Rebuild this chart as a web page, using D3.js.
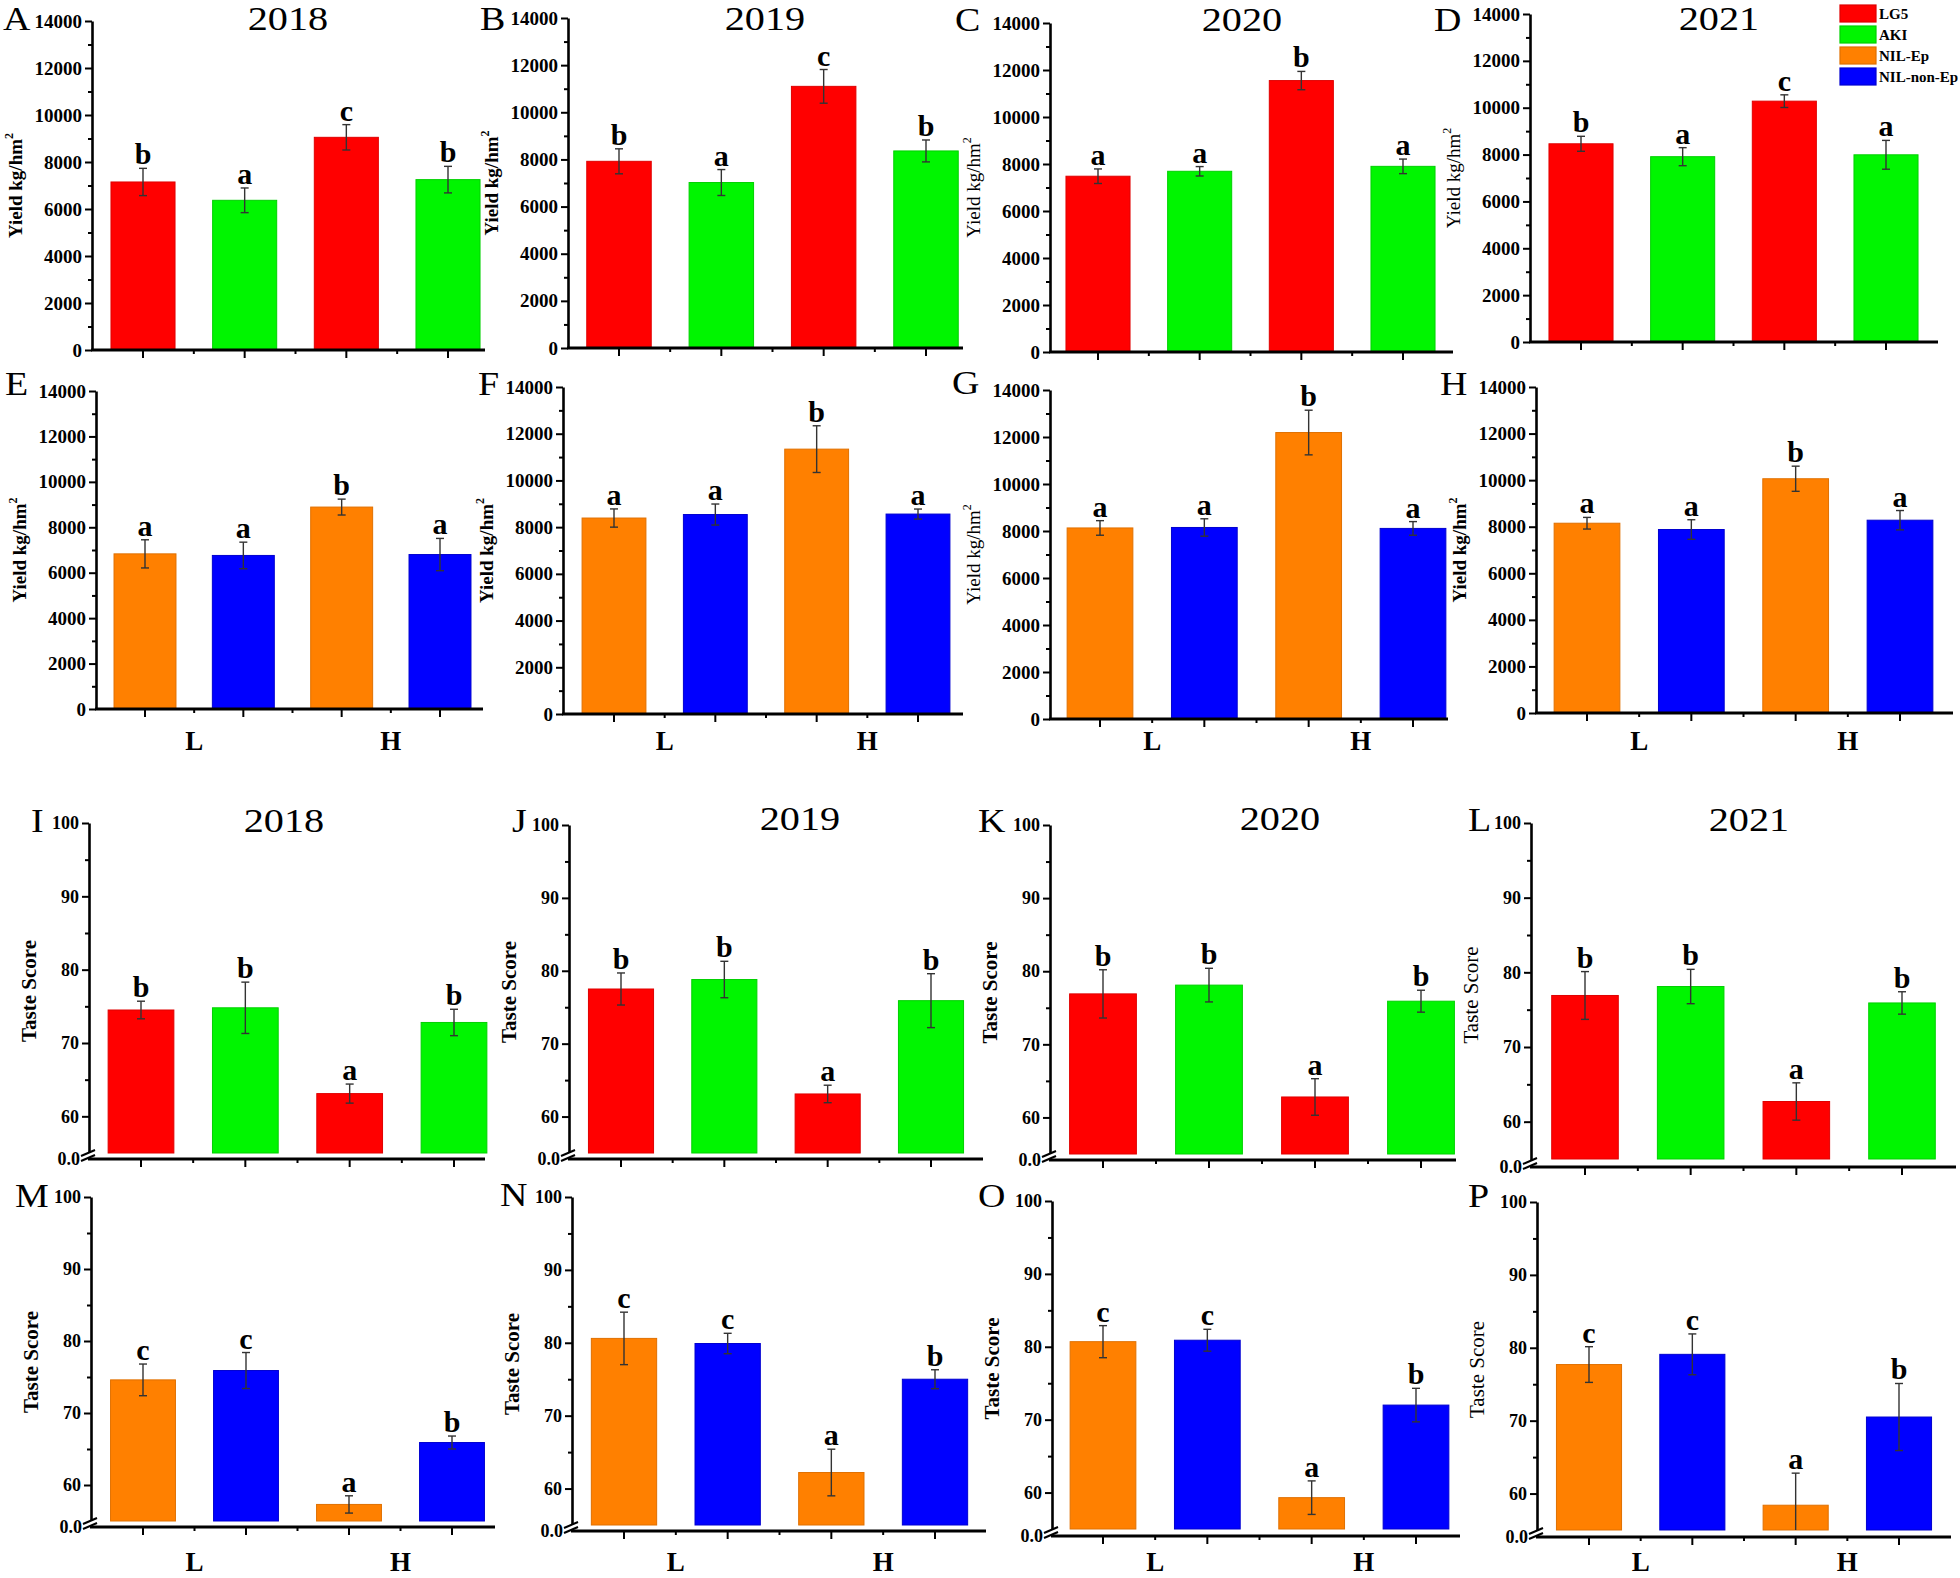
<!DOCTYPE html>
<html><head><meta charset="utf-8">
<script src="https://cdn.jsdelivr.net/npm/d3@7"></script>
<style>
body{margin:0;background:#fff}
svg{display:block}
text{font-family:"Liberation Serif","Times New Roman",serif;fill:#000}
</style>
</head><body>
<svg id="chart" width="1960" height="1578"></svg>
<script>
// ---------------- DATA ----------------
const years = ["2018", "2019", "2020", "2021"];
const barKeys = ["L-1", "L-2", "H-1", "H-2"];
const nitrogenLevels = ["L", "H"];
const parentLines = ["LG5", "AKI", "LG5", "AKI"];
const nilLines = ["NIL-Ep", "NIL-non-Ep", "NIL-Ep", "NIL-non-Ep"];
const legendItems = ["LG5", "AKI", "NIL-Ep", "NIL-non-Ep"];
const panelLetters = ["A","B","C","D","E","F","G","H","I","J","K","L","M","N","O","P"];

const yieldMajorTicks = [0, 2000, 4000, 6000, 8000, 10000, 12000, 14000];
const yieldMinorTicks = [1000, 3000, 5000, 7000, 9000, 11000, 13000];
const tasteMajorTicks = [60, 70, 80, 90, 100];
const tasteMinorTicks = [65, 75, 85, 95];

// Yield (kg/hm2), parents LG5 / AKI, per year: [LG5-L, AKI-L, LG5-H, AKI-H]
const yieldParentMean = [
  [7150, 6370, 9050, 7250],
  [7920, 7020, 11100, 8360],
  [7480, 7690, 11550, 7900],
  [8460, 7910, 10280, 7990]
];
const yieldParentErr = [
  [580, 525, 540, 565],
  [530, 550, 715, 465],
  [310, 200, 390, 310],
  [320, 385, 270, 615]
];
const yieldParentSig = [
  ["b","a","c","b"],
  ["b","a","c","b"],
  ["a","a","b","a"],
  ["b","a","c","a"]
];

// Yield, NILs
const yieldNilMean = [
  [6830, 6760, 8890, 6800],
  [8390, 8540, 11340, 8560],
  [8130, 8150, 12190, 8110],
  [8150, 7880, 10060, 8280]
];
const yieldNilErr = [
  [620, 585, 350, 710],
  [390, 450, 1000, 215],
  [310, 370, 950, 290],
  [250, 420, 540, 415]
];
const yieldNilSig = [
  ["a","a","b","a"],
  ["a","a","b","a"],
  ["a","a","b","a"],
  ["a","a","b","a"]
];

// Taste score, parents
const tasteParentMean = [
  [74.5, 74.8, 63.1, 72.8],
  [77.5, 78.8, 63.1, 75.9],
  [76.9, 78.1, 62.8, 75.9],
  [76.9, 78.1, 62.7, 75.9]
];
const tasteParentErr = [
  [1.2, 3.5, 1.3, 1.8],
  [2.2, 2.5, 1.2, 3.7],
  [3.3, 2.3, 2.5, 1.5],
  [3.2, 2.3, 2.5, 1.5]
];
const tasteParentSig = [
  ["b","b","a","b"],
  ["b","b","a","b"],
  ["b","b","a","b"],
  ["b","b","a","b"]
];

// Taste score, NILs
const tasteNilMean = [
  [74.6, 75.9, 57.3, 65.9],
  [80.6, 79.9, 62.2, 75.0],
  [80.7, 80.9, 59.3, 72.0],
  [77.7, 79.1, 58.4, 70.5]
];
const tasteNilErr = [
  [2.2, 2.5, 1.2, 0.9],
  [3.6, 1.4, 3.2, 1.3],
  [2.2, 1.5, 2.3, 2.3],
  [2.45, 2.8, 4.4, 4.6]
];
const tasteNilSig = [
  ["c","c","a","b"],
  ["c","c","a","b"],
  ["c","c","a","b"],
  ["c","c","a","b"]
];

// ---------------- STYLE / LAYOUT ----------------
const colors = {"LG5":"#ff0000","AKI":"#00f500","NIL-Ep":"#ff8000","NIL-non-Ep":"#0000ff"};
const strokeColors = {"LG5":"#e00000","AKI":"#00d000","NIL-Ep":"#e07000","NIL-non-Ep":"#0000d0"};

// yield panels (rows 1-2)
const yieldLayout = [
  {ax:92,  yTop:21,  y0:350, xEnd:485,  c0:143,  c3:448,  lx:3,    ly:30,  tx:288,  ty:30, boldLab:true},
  {ax:568, yTop:18,  y0:348, xEnd:963,  c0:619,  c3:926,  lx:480,  ly:30,  tx:765,  ty:30, boldLab:true},
  {ax:1050,yTop:23,  y0:352, xEnd:1453, c0:1098, c3:1403, lx:955,  ly:31,  tx:1242, ty:31, boldLab:false},
  {ax:1530,yTop:14,  y0:342, xEnd:1938, c0:1581, c3:1886, lx:1434, ly:31,  tx:1719, ty:30, boldLab:false},
  {ax:96,  yTop:391, y0:709, xEnd:483,  c0:145,  c3:440,  lx:5,    ly:395, nl:750, boldLab:true},
  {ax:563, yTop:387, y0:714, xEnd:963,  c0:614,  c3:918,  lx:478,  ly:395, nl:750, boldLab:true},
  {ax:1050,yTop:390, y0:719, xEnd:1448, c0:1100, c3:1413, lx:952,  ly:394, nl:750, boldLab:false},
  {ax:1536,yTop:387, y0:713, xEnd:1953, c0:1587, c3:1900, lx:1440, ly:395, nl:750, boldLab:true}
];
// taste panels (rows 3-4)
const tasteLayout = [
  {ax:89,  y100:823,  y55:1153, axisY:1159, xEnd:485,  c0:141,  c3:454,  lx:31,   ly:832,  tx:284,  ty:832, boldLab:true},
  {ax:569, y100:825,  y55:1153, axisY:1159, xEnd:983,  c0:621,  c3:931,  lx:512,  ly:832,  tx:800,  ty:830, boldLab:true},
  {ax:1050,y100:825,  y55:1154, axisY:1160, xEnd:1456, c0:1103, c3:1421, lx:978,  ly:832,  tx:1280, ty:830, boldLab:true},
  {ax:1531,y100:823,  y55:1159, axisY:1167, xEnd:1956, c0:1585, c3:1902, lx:1468, ly:831,  tx:1749, ty:831, boldLab:false},
  {ax:91,  y100:1197, y55:1521, axisY:1527, xEnd:495,  c0:143,  c3:452,  lx:15,   ly:1207, nl:1571, boldLab:true},
  {ax:572, y100:1197, y55:1525, axisY:1531, xEnd:986,  c0:624,  c3:935,  lx:500,  ly:1206, nl:1571, boldLab:true},
  {ax:1052,y100:1201, y55:1529, axisY:1536, xEnd:1460, c0:1103, c3:1416, lx:978,  ly:1207, nl:1571, boldLab:true},
  {ax:1537,y100:1202, y55:1530, axisY:1537, xEnd:1951, c0:1589, c3:1899, lx:1468, ly:1207, nl:1571, boldLab:false}
];

const svg = d3.select("#chart");

function drawPanel(L, letter, mean, err, sig, lines, type, titleText) {
  const g = svg.append("g");
  const s = (L.c3 - L.c0) / 3;
  const x = d3.scaleBand().domain(barKeys)
    .range([L.c0 - s/2, L.c3 + s/2]).paddingInner(0.37).paddingOuter(0.185);
  let y, base, axisY, majors, minors, labOff;
  if (type === "yield") {
    y = d3.scaleLinear().domain([0, 14000]).range([L.y0, L.yTop]);
    base = 0; axisY = L.y0; majors = yieldMajorTicks; minors = yieldMinorTicks; labOff = 70;
  } else {
    y = d3.scaleLinear().domain([0, 55, 100]).range([L.axisY, L.y55, L.y100]);
    base = 55; axisY = L.axisY; majors = tasteMajorTicks; minors = tasteMinorTicks; labOff = 53;
  }

  // bars
  g.selectAll("rect.bar").data(mean).join("rect")
    .attr("class", "bar")
    .attr("x", (d, i) => x(barKeys[i]))
    .attr("width", x.bandwidth())
    .attr("y", d => y(d))
    .attr("height", d => y(base) - y(d))
    .attr("fill", (d, i) => colors[lines[i]])
    .attr("stroke", (d, i) => strokeColors[lines[i]])
    .attr("stroke-width", 1);

  // error bars
  const cx = i => x(barKeys[i]) + x.bandwidth() / 2;
  const eb = g.append("g").attr("stroke", "#333").attr("stroke-width", 1.4);
  mean.forEach((v, i) => {
    const hi = y(v + err[i]);
    const lo = y(Math.max(base, v - err[i]));
    eb.append("line").attr("x1", cx(i)).attr("x2", cx(i)).attr("y1", hi).attr("y2", lo);
    eb.append("line").attr("x1", cx(i) - 4).attr("x2", cx(i) + 4).attr("y1", hi).attr("y2", hi);
    if (v - err[i] > base) eb.append("line").attr("x1", cx(i) - 4).attr("x2", cx(i) + 4).attr("y1", lo).attr("y2", lo);
  });

  // significance letters
  g.selectAll("text.sig").data(sig).join("text")
    .attr("class", "sig")
    .attr("x", (d, i) => cx(i))
    .attr("y", (d, i) => y(mean[i] + err[i]) - 4)
    .attr("text-anchor", "middle")
    .attr("font-size", 30).attr("font-weight", "bold")
    .text(d => d);

  // y axis (major)
  const ya = g.append("g").attr("transform", `translate(${L.ax},0)`)
    .call(d3.axisLeft(y).tickValues(majors).tickSize(7).tickSizeOuter(0).tickPadding(3).tickFormat(d => d));
  ya.select(".domain").attr("stroke", "#000").attr("stroke-width", 2.6);
  ya.selectAll(".tick line").attr("stroke", "#000").attr("stroke-width", 2);
  ya.selectAll(".tick text").attr("font-family", "Liberation Serif").attr("font-weight", "bold")
    .attr("font-size", type === "yield" ? 19 : 18).attr("fill", "#000");
  // minor ticks
  const ym = g.append("g").attr("transform", `translate(${L.ax},0)`)
    .call(d3.axisLeft(y).tickValues(minors).tickSize(4).tickSizeOuter(0).tickFormat(""));
  ym.select(".domain").remove();
  ym.selectAll(".tick line").attr("stroke", "#000").attr("stroke-width", 2);

  if (type === "taste") {
    // axis break label and mark
    g.append("text").attr("x", L.ax - 9).attr("y", y(0) + 6)
      .attr("text-anchor", "end").attr("font-size", 18).attr("font-weight", "bold").text("0.0");
    const yb = axisY - 3;
    g.append("rect").attr("x", L.ax - 3).attr("y", yb - 4).attr("width", 6).attr("height", 5).attr("fill", "#fff");
    [0, 5].forEach(o => {
      g.append("line").attr("x1", L.ax - 8).attr("y1", yb + 3 - o + 2)
        .attr("x2", L.ax + 6).attr("y2", yb - 3 - o + 2)
        .attr("stroke", "#000").attr("stroke-width", 2);
    });
  }

  // x axis
  g.append("line").attr("x1", L.ax - 1).attr("x2", L.xEnd).attr("y1", axisY).attr("y2", axisY)
    .attr("stroke", "#000").attr("stroke-width", 2.8);
  const xa = g.append("g").attr("transform", `translate(0,${axisY})`)
    .call(d3.axisBottom(x).tickSize(8).tickFormat(""));
  xa.select(".domain").remove();
  xa.selectAll(".tick line").attr("stroke", "#000").attr("stroke-width", 2);
  for (let i = 0; i < 3; i++) {
    const mx = (cx(i) + cx(i + 1)) / 2;
    g.append("line").attr("x1", mx).attr("x2", mx).attr("y1", axisY).attr("y2", axisY + 4)
      .attr("stroke", "#000").attr("stroke-width", 2);
  }

  // y label
  const midY = (y.range()[0] + y.range()[y.range().length - 1]) / 2;
  const lab = g.append("text")
    .attr("transform", `translate(${L.ax - labOff},${midY}) rotate(-90)`)
    .attr("text-anchor", "middle")
    .attr("font-size", type === "yield" ? 19 : 21)
    .attr("font-weight", L.boldLab ? "bold" : "normal");
  if (type === "yield") {
    lab.append("tspan").text("Yield kg/hm");
    lab.append("tspan").attr("dy", -9).attr("font-size", 12).text("2");
  } else {
    lab.text("Taste Score");
  }

  // nitrogen labels
  if (L.nl) {
    nitrogenLevels.forEach((n, k) => {
      g.append("text").attr("x", (cx(2 * k) + cx(2 * k + 1)) / 2).attr("y", L.nl)
        .attr("text-anchor", "middle").attr("font-size", 27).attr("font-weight", "bold").text(n);
    });
  }

  // panel letter
  g.append("text").attr("x", L.lx).attr("y", L.ly).attr("font-size", 33)
    .attr("transform", `translate(${L.lx},0) scale(1.15,1) translate(${-L.lx},0)`).text(letter);
  // year title
  if (titleText) {
    g.append("text").attr("x", L.tx).attr("y", L.ty).attr("text-anchor", "middle")
      .attr("font-size", 33).attr("transform", `translate(${L.tx},0) scale(1.22,1) translate(${-L.tx},0)`)
      .text(titleText);
  }
}

for (let k = 0; k < 4; k++) {
  drawPanel(yieldLayout[k], panelLetters[k], yieldParentMean[k], yieldParentErr[k], yieldParentSig[k], parentLines, "yield", years[k]);
  drawPanel(yieldLayout[k + 4], panelLetters[k + 4], yieldNilMean[k], yieldNilErr[k], yieldNilSig[k], nilLines, "yield", null);
  drawPanel(tasteLayout[k], panelLetters[k + 8], tasteParentMean[k], tasteParentErr[k], tasteParentSig[k], parentLines, "taste", years[k]);
  drawPanel(tasteLayout[k + 4], panelLetters[k + 12], tasteNilMean[k], tasteNilErr[k], tasteNilSig[k], nilLines, "taste", null);
}

// legend
const lg = svg.append("g").attr("transform", "translate(1840,5)");
legendItems.forEach((name, i) => {
  lg.append("rect").attr("x", 0).attr("y", i * 21).attr("width", 36).attr("height", 17)
    .attr("fill", colors[name]).attr("stroke", strokeColors[name]).attr("stroke-width", 1.2);
  lg.append("text").attr("x", 39).attr("y", i * 21 + 14)
    .attr("font-size", 15).attr("font-weight", "bold").text(name);
});
</script>
</body></html>
